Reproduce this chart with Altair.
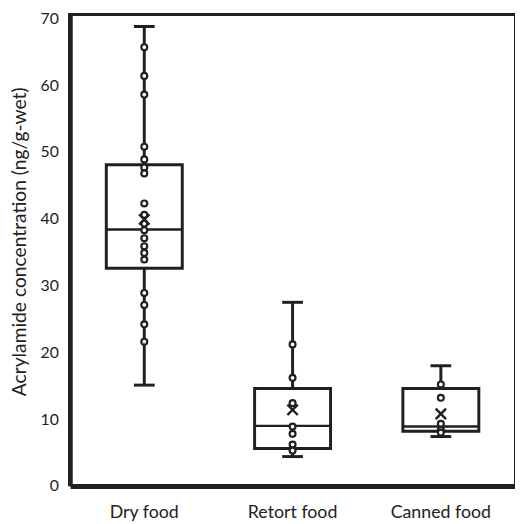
import altair as alt
import pandas as pd

categories = ["Dry food", "Retort food", "Canned food"]
whisker_low = [15.1, 4.4, 7.4]
q1 = [32.6, 5.6, 8.2]
median = [38.4, 9.0, 8.9]
q3 = [48.1, 14.6, 14.6]
whisker_high = [68.8, 27.5, 18.0]
mean = [39.9, 11.4, 10.8]

dry_points = [65.7, 61.4, 58.6, 50.8, 48.9, 47.7, 46.8, 42.3, 40.6, 39.3, 38.3,
              37.1, 35.9, 34.9, 33.9, 28.9, 27.1, 24.2, 21.6]
retort_points = [21.2, 16.2, 12.4, 8.9, 7.8, 6.2, 5.3]
canned_points = [15.2, 13.2, 9.3, 8.4, 8.0]

y_ticks = [0, 10, 20, 30, 40, 50, 60, 70]

summary = pd.DataFrame({
    "cat": categories, "lo": whisker_low, "q1": q1, "med": median,
    "q3": q3, "hi": whisker_high, "mean": mean,
})
pts = pd.DataFrame({
    "cat": ["Dry food"] * len(dry_points) + ["Retort food"] * len(retort_points)
           + ["Canned food"] * len(canned_points),
    "v": dry_points + retort_points + canned_points,
})

INK = "#231f20"
FONT = "Lato"
W, H = 451, 478

x = alt.X("cat:N", sort=categories, scale=alt.Scale(paddingInner=0, paddingOuter=0),
          axis=alt.Axis(title=None, labelAngle=0, ticks=False, tickSize=0,
                        domainColor=INK, domainWidth=5, labelFontSize=18,
                        labelFont=FONT, labelColor="#222", labelPadding=18))
yscale = alt.Scale(domain=[0, 70.6], nice=False, zero=True)
yaxis = alt.Axis(title="Acrylamide concentration (ng/g-wet)", values=y_ticks,
                 ticks=False, tickSize=0, grid=False, domainColor=INK, domainWidth=4,
                 labelFontSize=16, labelFont=FONT, labelColor="#222", labelPadding=12,
                 titleFontSize=19.5, titleFont=FONT, titleFontWeight="normal",
                 titleColor="#222", titlePadding=11, titleY=230)


def Y(field):
    return alt.Y(field, scale=yscale, axis=yaxis)


base = alt.Chart(summary)

whisker = base.mark_rule(color=INK, strokeWidth=3, opacity=1).encode(
    x=x, y=Y("lo:Q"), y2="hi:Q")
caps_hi = base.mark_tick(color=INK, size=21, thickness=3, opacity=1).encode(
    x=x, y=Y("hi:Q"))
caps_lo = base.mark_tick(color=INK, size=21, thickness=3, opacity=1).encode(
    x=x, y=Y("lo:Q"))
box = base.mark_bar(size=77, fill="white", stroke=INK, strokeWidth=3, opacity=1).encode(
    x=x, y=Y("q1:Q"), y2="q3:Q")
med = base.mark_tick(color=INK, size=77, thickness=2.5, opacity=1).encode(
    x=x, y=Y("med:Q"))
points = alt.Chart(pts).mark_point(shape="circle", fill="white", filled=False,
                                   stroke=INK, strokeWidth=2.2, size=36, opacity=1).encode(
    x=x, y=Y("v:Q"))
mean_mark = base.mark_point(shape="M-1,-1L1,1M-1,1L1,-1", filled=False, stroke=INK,
                            strokeWidth=2.5, size=110, opacity=1).encode(
    x=x, y=Y("mean:Q"))

top_line = base.mark_rule(color=INK, strokeWidth=3).encode(
    x=alt.value(0), x2=alt.value(W), y=alt.value(0))
right_line = base.mark_rule(color=INK, strokeWidth=1.5).encode(
    x=alt.value(W), y=alt.value(0), y2=alt.value(H))
left_line = base.mark_rule(color=INK, strokeWidth=4).encode(
    x=alt.value(0), y=alt.value(-1.5), y2=alt.value(H))

chart = alt.layer(whisker, caps_hi, caps_lo, box, med, points, mean_mark,
                  top_line, right_line, left_line).properties(
    width=W, height=H,
    autosize=alt.AutoSizeParams(type="none"),
    padding={"left": 63, "top": 3, "right": 0, "bottom": 35},
).configure_view(stroke=None).configure_axisX(domainWidth=5, domainColor=INK
).configure_axisY(domainWidth=4, domainColor=INK)

chart.save("out.html", embed_options={"renderer": "svg", "actions": False})
